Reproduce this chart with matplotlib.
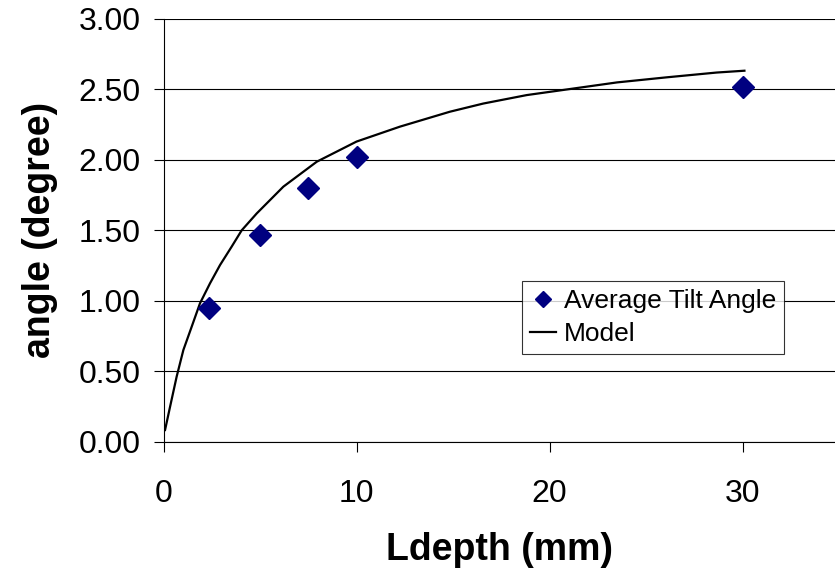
import matplotlib
matplotlib.use("Agg")
import matplotlib.pyplot as plt
from matplotlib.ticker import FixedLocator, FormatStrFormatter

plt.rcParams['font.family'] = ['Liberation Sans', 'DejaVu Sans']

# Measured data (Average Tilt Angle)
meas_x = [2.35, 5.0, 7.5, 10.0, 30.0]
meas_y = [0.95, 1.47, 1.80, 2.02, 2.52]

# Model curve
model_x = [0.08, 0.34, 0.68, 1.03, 1.46, 1.89, 2.41, 2.93, 3.53, 4.05, 4.83, 5.52,
           6.21, 7.94, 10.0, 12.25, 14.84, 16.57, 18.82, 20.9, 23.5, 26.07, 28.66, 30.1]
model_y = [0.083, 0.248, 0.461, 0.651, 0.816, 0.982, 1.124, 1.254, 1.384, 1.50, 1.62, 1.715,
           1.81, 1.987, 2.13, 2.236, 2.342, 2.40, 2.46, 2.50, 2.55, 2.586, 2.62, 2.633]

x_ticks = [0, 10, 20, 30]
y_ticks = [0.0, 0.5, 1.0, 1.5, 2.0, 2.5, 3.0]

fig = plt.figure(figsize=(8.35, 5.75), dpi=100)
ax = fig.add_axes([163.5/835, (575-441.7)/575, (835-163.5)/835, (441.7-19)/575])

pts, = ax.plot(meas_x, meas_y, linestyle='none', marker='D', ms=11.5, color='#000080',
               label='Average Tilt Angle', zorder=4, clip_on=False)
mdl, = ax.plot(model_x, model_y, color='black', lw=1.6, label='Model', zorder=3,
               solid_joinstyle='round')

ax.set_xlim(0, (835-163.5)/19.3)
ax.set_ylim(0, 3.0)
ax.xaxis.set_major_locator(FixedLocator(x_ticks))
ax.yaxis.set_major_locator(FixedLocator(y_ticks))
ax.yaxis.set_major_formatter(FormatStrFormatter('%.2f'))

ax.grid(axis='y', color='black', lw=0.8)
ax.set_axisbelow(True)
for s in ['top', 'right']:
    ax.spines[s].set_visible(False)
for s in ['left', 'bottom']:
    ax.spines[s].set_linewidth(0.8)
    ax.spines[s].set_color('black')

ax.tick_params(axis='y', direction='out', length=7.5, width=0.8, pad=9, labelsize=23)
ax.tick_params(axis='x', direction='out', length=7.5, width=0.8, pad=19, labelsize=23)

ax.set_xlabel('Ldepth (mm)', fontsize=27, fontweight='bold', labelpad=17)
ax.set_ylabel('angle (degree)', fontsize=27, fontweight='bold', labelpad=15)

leg = ax.legend(handles=[pts, mdl], loc='upper left',
                bbox_to_anchor=((522-163.5)/(835-163.5), (441.7-281)/(441.7-19)),
                fontsize=19, frameon=True, fancybox=False, borderpad=0.3, labelspacing=0.35,
                handlelength=1.0, handletextpad=0.3, borderaxespad=0, markerscale=0.7)
leg.get_frame().set_edgecolor('black')
leg.get_frame().set_linewidth(0.8)

fig.savefig('out.png', dpi=100)
